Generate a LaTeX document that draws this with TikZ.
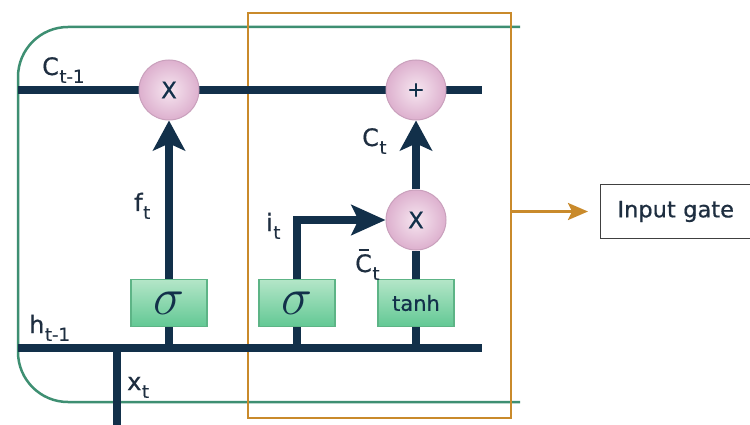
\documentclass[tikz,border=0pt]{standalone}
\usepackage{fontspec}
\setmainfont{DejaVu Sans}[FakeBold=0.6]
\usetikzlibrary{arrows.meta,calc}
\definecolor{navy}{HTML}{12304A}
\definecolor{labc}{HTML}{1E2E40}
\definecolor{greenc}{HTML}{3E8F72}
\definecolor{orangec}{HTML}{C98A2B}
\definecolor{boxtop}{HTML}{B4E6C8}
\definecolor{boxbot}{HTML}{62C894}
\definecolor{boxedge}{HTML}{5DB486}
\definecolor{circin}{HTML}{F6E6F0}
\definecolor{circout}{HTML}{DDB0CE}
\definecolor{circedge}{HTML}{C9A0BC}
\newcommand\lbl[2]{#1\kern0.5pt\raisebox{-0.33em}{\fontsize{18}{18}\selectfont #2}}
\newcommand\barC{\leavevmode\rlap{\raisebox{0.88em}{\kern3.5pt\rule{10pt}{2.2pt}}}C}
\newcommand\bigsig{\scalebox{2.1}{$\sigma$}}
\tikzset{
  cellline/.style={draw=navy, line width=7.5pt},
  flow/.style={cellline, -{Stealth[length=30pt,width=32pt,inset=7pt]}},
  gatebox/.style={rectangle, draw=boxedge, line width=1.2pt, top color=boxtop, bottom color=boxbot, minimum width=76pt, minimum height=47pt, inner sep=0pt, text=navy},
  opcirc/.style={circle, draw=circedge, line width=1pt, inner color=circin, outer color=circout, minimum size=60pt, inner sep=0pt, text=navy, font=\fontsize{23}{23}\selectfont},
  lab/.style={anchor=base west, inner sep=0pt, text=labc, font=\fontsize{24}{24}\selectfont}
}
\begin{document}
\begin{tikzpicture}[x=1pt,y=-1pt]
\useasboundingbox (0,0) rectangle (750,425);
\fill[white] (0,0) rectangle (750,425);

% green cell outline
\draw[greenc, line width=2.5pt, rounded corners=50pt] (520,27) -- (18,27) -- (18,402) -- (520,402);

% orange input-gate frame
\node[draw=orangec, line width=2.5pt, minimum width=263pt, minimum height=405pt, inner sep=0pt] (frame) at (379.5,215.5) {};

% coordinates
\coordinate (cL) at (18,90);
\coordinate (cR) at (482,90);
\coordinate (hL) at (18,348);
\coordinate (hR) at (482,348);
\coordinate (xB) at (117,425);
\coordinate (xT) at (117,348);

% main lines
\draw[cellline] (cL) -- (cR);
\draw[cellline] (hL) -- (hR);
\draw[cellline] (xB) -- (xT);

% gates
\node[gatebox, font=\fontsize{24}{24}\selectfont] (sigF) at (169,303) {\bigsig};
\node[gatebox, font=\fontsize{24}{24}\selectfont] (sigI) at (297,303) {\bigsig};
\node[gatebox, font=\fontsize{21}{21}\selectfont] (tanhB) at (416,303) {tanh};

% operations
\node[opcirc] (mulF) at (169,90) {X};
\node[opcirc, font=\fontsize{21}{21}\selectfont] (add) at (416,90) {+};
\node[opcirc] (mulI) at (416,220) {X};

% connectors
\draw[cellline] (sigF.south) -- (sigF.south |- hL);
\draw[cellline] (sigI.south) -- (sigI.south |- hL);
\draw[cellline] (tanhB.south) -- (tanhB.south |- hL);
\draw[flow] (sigF.north) -- (mulF.south);
\draw[flow] (mulI.north) -- (add.south);
\draw[cellline] (tanhB.north) -- (mulI.south);
\draw[cellline, -{Stealth[length=34pt,width=30pt,inset=7pt]}] (sigI.north) |- (mulI.west);

% labels
\node[lab] (lC1) at (42,75) {\lbl{C}{t-1}};
\node[lab] (lf) at (134,211) {\lbl{f}{t}};
\node[lab] (lC) at (362,146) {\lbl{C}{t}};
\node[lab] (li) at (266,231) {\lbl{i}{t}};
\node[lab] (lCb) at (355,272) {\lbl{\barC}{t}};
\node[lab] (lh) at (29,333) {\lbl{h}{t-1}};
\node[lab] (lx) at (127,390) {\lbl{x}{t}};

% input gate box
\node[draw=black!75, line width=1pt, anchor=west, minimum height=53pt, text width=140pt, inner xsep=17pt, align=left, text=labc, font=\fontsize{22.5}{22.5}\selectfont] (inp) at (600,211.5) {Input gate};
\draw[orangec, line width=2.5pt, -{Stealth[length=20pt,width=17pt,inset=4pt]}, shorten >=12pt] (frame.east |- inp.west) -- (inp.west);
\end{tikzpicture}
\end{document}
